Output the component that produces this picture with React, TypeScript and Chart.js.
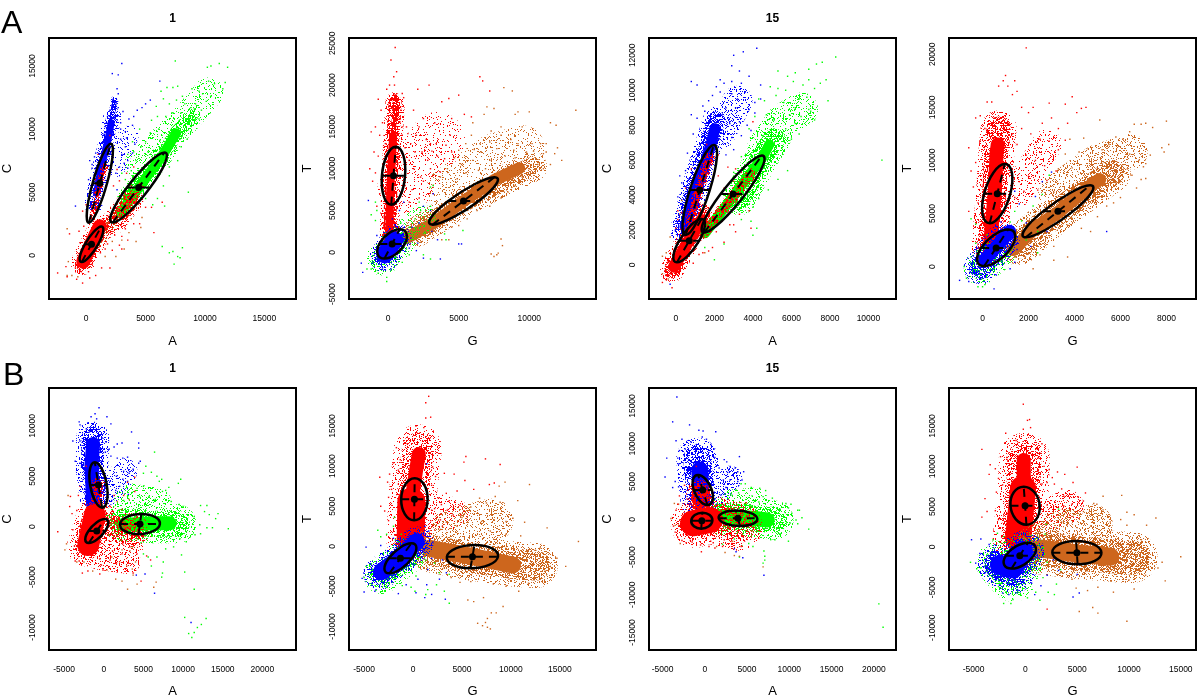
import React, { useEffect, useRef } from "react";
import { Chart, registerables } from "chart.js";
Chart.register(...registerables);

// All point values below are in thousands of intensity units.
const colX = ["A", "G"];
const colY = ["C", "T"];

// ---- Panel A1 ----
const a1XTicks = [0, 5000, 10000, 15000];
const a1YTicks = [0, 5000, 10000, 15000];
const a1BlueHalo = [[.6, 4], [1.28, 7], [1.84, 9.15], [2.2, 11]];
const a1BlueCore = [[.87, 4.9], [1.28, 7], [1.84, 9.15], [2.1, 10.5]];
const a1BlueThin = [[2.1, 10.5], [2.4, 12.3]];
const a1BlueFar = [[2.5, 7], [3.6, 9.5]];
const a1GreenHalo = [[3.5, 4.5], [6.4, 7.9], [7.6, 9.7], [8.8, 10.9]];
const a1GreenCore = [[2.9, 3.4], [4.5, 5.45], [6.45, 7.96], [7.57, 9.68]];
const a1GreenFar = [[4.5, 7.3], [8.3, 10.7], [10.3, 12.9]];
const a1OrangeCore = [[.8, 1.2], [2, 2.5], [3.9, 4.4]];
const a1RedHalo = [[-.3, -.6], [1.1, 2], [2.3, 2.6], [3.8, 4.4]];
const a1RedCore = [[-.25, -.5], [.45, .95], [1.15, 2.3]];
const a1RedUpper = [[.6, 3.1], [1, 5.2], [1.56, 7]];
const a1RedLower = [[2.1, 2.6], [3.2, 3.9], [4.5, 5.4]];
const a1Blue = [[3, 15.2], [2.7, 14.3], [2.2, 14.4], [2.6, 13.2], [2.7, 12.8], [2.4, 12], [2, 11.5], [1.8, 11], [1.7, 10.5], [2.9, 10], [3.3, 9.8], [3.4, 9.3], [3.9, 10.3], [4, 11], [4.3, 11.5], [5, 12], [5.4, 12.3], [6.2, 13.8], [4.7, 11.7], [3.6, 10.8], [3, 8], [3.5, 7.5], [3.9, 8.1], [2.8, 7], [2.5, 6.5], [1.4, 9], [1.1, 8], [.7, 7.8], [.3, 7.5], [.5, 6.9], [.2, 6], [-.9, 3.9], [.4, 5], [3.5, 6.9], [2.6, 5.2], [2.9, 10.5], [3.1, 11.4], [2.4, 10.8], [2.9, 9.2], [3.3, 8.6], [1.3, 8.5], [.9, 7], [3.2, 7.3], [1.6, 10.2], [1.5, 9.6], [.8, 8.1], [.5, 7.2], [2.7, 11.7], [2.3, 9.6], [4.1, 8.8]];
const a1Green = [[7.5, 15.4], [10.2, 14.9], [10.5, 15], [11.2, 15.2], [11.9, 14.9], [6.3, 13], [6.8, 13.3], [7.3, 13.3], [7.7, 13.4], [8.9, 13.2], [9.5, 13], [10.3, 13.8], [10.8, 13.6], [11.7, 13.7], [11.5, 13.2], [9.8, 12.8], [10.5, 12.6], [10.1, 12.2], [8.3, 12], [8.8, 11.7], [9.2, 12], [9.7, 11.5], [7, 12], [6.5, 12.4], [5.9, 11.8], [6, 11], [5.5, 10.7], [6.7, 11], [7.3, 11.3], [8, 11.3], [8.7, 11], [9.2, 10.8], [9.5, 10.8], [8.8, 9.8], [8.5, 9.2], [8, 8.6], [7.7, 7.5], [7, 7], [7, 6.3], [6.5, 5.5], [6, 4.5], [5.6, 4], [5, 4.5], [3.5, 8], [3.9, 9], [4.5, 10], [5, 9], [4.2, 7.5], [3, 6.5], [3.3, 6], [4, 8.2], [4.6, 8.6], [5.4, 9.7], [6.1, 10], [8.6, 5], [6.4, .7], [7, .2], [7.3, .3], [7.9, -.2], [7.7, -.1], [7.4, -.7], [8.1, .6], [6.6, 3.9], [9.1, 11.6], [8.1, 12.6], [7.6, 12.3], [6.2, 9.1], [5.2, 8.2], [4.9, 7], [3.8, 6.7]];
const a1Orange = [[-1.6, -1.6], [-1.2, -1.6], [-1.5, -.5], [-.7, -1.7], [2.5, -.1], [3.2, .5], [3, 1.2], [4.2, 1.1], [4.6, 2.2], [4.7, 3], [3.6, 1.8], [.3, -.9], [1.6, -.1], [2.2, 1.1], [3.8, 2.9], [-1.6, 2.1], [.1, 3.9]];
const a1Red = [[-2.4, -1.4], [-1.7, -.9], [-1.4, 1.7], [-1.6, -1.7], [-.8, -1.9], [-.3, -2.2], [.2, -1.3], [.8, -1.6], [1.3, -1], [2, -1], [2.2, .4], [1.6, .5], [-.5, 1], [-.6, 1.9], [-.2, 2.3], [.1, 3], [-.3, 3.5], [0, 4], [3, 1.5], [3.5, 1.2], [2.8, .8], [4, 2.5], [4.5, 2.5], [5, 3.8], [5.5, 3.8], [5.7, 1.8], [6.4, 4.2], [3.8, 5.5], [3.4, 6.5], [2.8, 5.9], [2.9, 4.5], [2.3, 5.5], [2.6, 6.8], [1.8, 8.5], [2, 9.5], [4, 7], [4.4, 5], [1, 8], [.8, 6], [3, .5], [.3, -1.8], [2.5, 2.9], [1.8, .9], [2.4, 1.6], [3.3, 2.1], [1.2, .2], [-.9, -1], [-.4, -1.3], [.5, -.7], [3.7, 3.3]];
const a1Ellipses = [[.45, .87, 1.28, 2.28, 1.01, .87], [1.15, 5.71, 2.07, 8.84, 1.76, 5.71], [4.41, 5.37, 6.59, 8.15, 5.39, 5.37]];

// ---- Panel A2 ----
const a2XTicks = [0, 5000, 10000];
const a2YTicks = [-5000, 0, 5000, 10000, 15000, 20000, 25000];
const a2RedHalo = [[.1, 2], [.2, 8], [.35, 13.8], [.5, 18]];
const a2RedCore = [[.07, 2.27], [.16, 7.85], [.35, 13.84]];
const a2RedThin = [[.35, 13.84], [.52, 18.6]];
const a2RedFar = [[1.2, 8], [3.5, 13.5]];
const a2OrangeHalo = [[2, 2.4], [5.3, 6], [7.5, 8], [10.2, 10.2]];
const a2OrangeCore = [[1.29, 1.67], [3.18, 3.47], [5.29, 6.06], [7.53, 8.65], [9.29, 10.05]];
const a2OrangeFar = [[4.3, 7.5], [7.5, 11.5], [9.5, 12.5]];
const a2GreenHalo = [[-.4, -.8], [.7, 1.2]];
const a2GreenFar = [[.9, 1.5], [2.4, 4]];
const a2BlueHalo = [[-.3, -.6], [.6, 1.6]];
const a2BlueCore = [[-.24, -.32], [.47, 1.47]];
const a2Red = [[.5, 24.5], [.2, 23], [.6, 21.6], [.4, 21], [.45, 20], [.1, 20], [-.1, 19.5], [-.7, 18.3], [-.5, 17], [-1.2, 14.4], [-.9, 15], [-.6, 14], [-.4, 15.5], [-.2, 13], [-.7, 11.5], [-1, 12], [-1.3, 10], [-.9, 9.5], [-1.1, 8.5], [-.4, 8], [-.6, 7], [-.8, 5.5], [1, 15], [1.3, 15], [1, 14], [1.6, 13], [1.9, 12], [1.5, 11], [1.8, 10], [2, 14], [2.5, 16], [2.1, 19.5], [2.9, 20], [3, 13], [2.4, 12], [2.8, 11], [3.4, 13], [3.3, 15.5], [3.8, 18], [4.3, 18.4], [4.5, 16], [4.4, 14], [4.1, 12.8], [4.5, 12], [5, 18.8], [5.4, 16.5], [5.9, 16.2], [6.5, 21], [6.7, 20.5], [7.2, 19.3], [3, 10], [3.2, 8], [2.3, 9], [1.7, 7.5], [1.2, 8], [1.5, 6], [2.2, 6.5], [2.5, 8.5], [3.7, 9.6], [4, 11.2], [1.8, 17], [2.2, 15], [1.2, 12.5], [.9, 17], [1.1, 18.5], [1, 19], [3.5, 11.5], [2.7, 13.5], [1.4, 14.2], [3.1, 12.1]];
const a2Orange = [[13.3, 17], [8.2, 19.7], [8.8, 19.3], [11.5, 15.5], [11.9, 15.2], [10, 16.8], [9.2, 16.8], [9, 16.5], [7, 17.4], [7.5, 17.2], [6.8, 16.5], [6, 15.5], [7.3, 14.5], [8, 15], [9.5, 15], [10.2, 13], [10.8, 13], [11.2, 13], [11.2, 12], [12, 12.5], [12.3, 11], [11.8, 11.8], [11, 10], [11, 11.8], [11.5, 10.5], [10.3, 12.1], [9.8, 12], [9.2, 13], [8.7, 13.5], [8, 14], [7.2, 13.2], [6.5, 13], [5.9, 14], [5.5, 13], [5, 12.2], [4.7, 11.3], [4.2, 10], [3.7, 9], [5.2, 10.5], [6, 11], [6.6, 12], [7.2, 11], [8.3, 11.5], [9, 11.3], [10, 10], [10.6, 10.5], [9.5, 9], [9, 8], [8.5, 7.2], [8, 6.5], [7.2, 5.5], [6.3, 5], [5.6, 4], [5, 3.2], [4.5, 3], [3.8, 1.5], [4.3, 1.5], [8.1, .8], [8, 1.6], [7.7, -.3], [7.5, -.5], [7.8, -.1], [7.3, -.2], [6.1, 12.3], [7.7, 12.4], [8.9, 12.2], [5.5, 9.5], [6.4, 9.8], [4.9, 8.8], [6.9, 10]];
const a2Green = [[-1.5, -2], [-1.2, -2], [-.7, -2.5], [-.1, -3.5], [-.1, -3], [-.5, -1], [1.5, -.3], [2.5, -.3], [3, -.8], [1.5, 3], [1.9, 4], [2.3, 5], [3, 5.5], [3.2, 8], [3, 7.8], [2.2, 6], [-1.2, 4.5], [-.9, 6], [-.8, 5], [-.9, 3.8], [1, -1.2], [4, 2.2], [4.1, 1.5], [5.3, 2.6], [1.2, 1.6], [1.8, 2.1], [2.6, 2.4], [.9, 3.5], [1.3, .4]];
const a2Blue = [[-1.9, -1.3], [-1.8, -2.4], [-1.4, 6.2], [-.8, 2], [-.4, -2], [.2, -2], [1.5, .5], [2, .2], [2.5, -.7], [3.7, -.8], [5, 1], [5.2, 1], [1, 2], [1.7, 3], [2.2, 3.5], [2.5, 5.5], [3, 5], [3.2, 7], [3.1, 2.5], [3.5, 1.5], [.8, 5], [1.1, 6], [.3, 4], [2.1, 1.1], [1.6, 1.7]];
const a2Ellipses = [[.38, 9.17, .54, 12.64, 1.2, 9.17], [.28, 1, .82, 2.75, 1.18, 1], [5.34, 6.14, 7.53, 8.97, 6.42, 6.14]];

// ---- Panel A3 ----
const a3XTicks = [0, 2000, 4000, 6000, 8000, 10000];
const a3YTicks = [0, 2000, 4000, 6000, 8000, 10000, 12000];
const a3BlueHalo = [[.4, 2], [1.1, 4.8], [1.7, 6.9], [2.1, 8.3]];
const a3BlueCore = [[.47, 2.19], [1.24, 4.87], [1.84, 6.97], [2.02, 7.8]];
const a3BlueFar = [[2.3, 7.5], [3.2, 9.4]];
const a3GreenHalo = [[3.3, 3.8], [4.5, 6.2], [5.1, 7.2]];
const a3GreenCore = [[1.5, 1.81], [2.97, 3.91], [4.52, 6.2], [4.85, 6.9]];
const a3GreenFar = [[4.6, 6.8], [5.6, 8.3], [6.5, 8.9]];
const a3RedHalo = [[-.2, -.3], [.7, 1.6], [1.4, 2.8]];
const a3RedCore = [[-.1, -.1], [.64, 1.34], [1.33, 2.58]];
const a3RedUpper = [[.72, 2.58], [1.24, 4.48], [1.76, 6.2]];
const a3RedLower = [[1.41, 1.81], [2.97, 3.91], [3.9, 5.2]];
const a3Blue = [[4.2, 12.4], [3.5, 12.2], [3, 12], [2.9, 11.4], [3.3, 11.1], [.8, 10.5], [1.1, 10.3], [4.4, 10.3], [3.8, 10.8], [3.4, 10.4], [2.9, 10.5], [2.3, 10.6], [2.5, 10.4], [2.1, 10.2], [1.9, 9.7], [1.7, 9.4], [2.9, 9.8], [3.2, 9.5], [3.6, 9.9], [4.4, 9.5], [4.1, 9.3], [3.8, 8.9], [4.1, 8.7], [3.1, 9], [2.6, 9], [2.4, 8.6], [3.3, 8.2], [3.7, 8], [3.9, 7.7], [3.4, 7.4], [2.9, 7.3], [3, 6.6], [2.6, 6.3], [.8, 8.6], [1.1, 8.4], [.9, 7.5], [.6, 6.4], [.2, 5.1], [.1, 3.9], [-.3, -1.1], [.3, 4.7], [.5, 5.4], [2.3, 9.9], [2.8, 8.1], [1.4, 9.1], [1.5, 8.8]];
const a3Green = [[8.3, 11.9], [7.6, 11.6], [7.3, 11.5], [6.9, 11.2], [5.3, 11.1], [6.2, 11], [5.8, 10.8], [6.1, 10.5], [7.8, 10.6], [7.5, 10.4], [6.6, 10.3], [6.9, 10.6], [7.2, 10.1], [5.7, 10], [4.9, 10.2], [5.3, 10.1], [4.3, 9.5], [4.6, 9.4], [5.2, 9.7], [5.6, 9.3], [6.4, 9.5], [6.8, 9.6], [7.9, 9.4], [6.2, 9], [6.9, 8.9], [6.5, 8.5], [7, 8.8], [7.2, 8.3], [4.1, 8.5], [4.7, 8.6], [5.9, 8.6], [6.2, 8.1], [5.7, 7.8], [6, 7.2], [6.4, 7.5], [5.5, 6.7], [5.8, 5.4], [5.3, 4.9], [4.8, 4.3], [4.3, 3.8], [4, 3.3], [4.2, 2.1], [4, 1.7], [3.9, 2.5], [10.7, 6], [3.8, 7.8], [3.4, 6.2], [3, 5.3], [2, .3], [1.5, 1], [2.5, 1.2], [3.4, 2.6], [3.8, 4], [5.1, 8.3]];
const a3Orange = [[-.7, .5], [-.7, -.5], [-.5, .7], [-.3, 1.6], [.2, 2.9], [.3, 3.7], [.9, .9], [1.5, .7], [-.5, -.3], [-.4, -.8]];
const a3Red = [[-.7, -1], [-.5, -.6], [-.2, -1.3], [-.4, .3], [-.3, -.5], [0, 2.1], [.1, 2.6], [.1, 3.1], [.3, 3], [.5, 4.4], [.8, 5.5], [.9, .1], [1.2, .6], [1.4, .7], [1.7, .8], [1.9, 1], [2.1, 1.9], [2.5, 1.3], [2.4, 2.5], [2.8, 2.3], [3, 2.3], [3.1, 1.9], [3.3, 2.9], [3.8, 3.1], [3.9, 2.1], [1.7, 5.6], [2, 6.1], [2.2, 5.1], [2.5, 4.4], [2.7, 5.6], [3.1, 5.5], [3.4, 5.3], [3.9, 5.4], [2.6, 3.6], [2.2, 6.3], [1.5, 5], [4, 8.2], [1.6, 6.9], [2.6, 3.1], [3, 4.8], [1.6, 2.4], [.6, .6]];
const a3Ellipses = [[.69, 1.39, 1.33, 2.63, 1.21, 1.39], [1.24, 4.29, 1.97, 6.87, 1.76, 4.29], [2.97, 4.06, 4.47, 6.26, 3.62, 4.06]];

// ---- Panel A4 ----
const a4XTicks = [0, 2000, 4000, 6000, 8000];
const a4YTicks = [0, 5000, 10000, 15000, 20000];
const a4RedHalo = [[.3, 1.9], [.5, 6.9], [.6, 10.7], [.7, 13]];
const a4RedCore = [[.32, 1.91], [.53, 6.93], [.61, 10.69], [.66, 11.5]];
const a4RedFar = [[1.5, 7], [2.8, 11.5]];
const a4OrangeHalo = [[1.6, 2], [3.3, 5.2], [4.7, 7.4], [5.6, 8.8]];
const a4OrangeCore = [[1.33, 1.6], [2.2, 3.48], [3.35, 5.2], [4.65, 7.55], [5.1, 8.2]];
const a4OrangeFar = [[3.2, 7], [5, 9.8], [6.4, 10.8]];
const a4GreenHalo = [[-.1, -.2], [.7, 1.2]];
const a4BlueHalo = [[-.1, -.1], [.9, 2.6]];
const a4BlueCore = [[.1, .66], [.75, 2.23], [1.18, 3.32]];
const a4Red = [[1.9, 20.6], [1, 18], [.9, 17.5], [1.1, 17], [1.4, 17.5], [.7, 17], [1.5, 16.5], [.4, 15.5], [.2, 15.5], [1.3, 16.2], [1.7, 15], [2.2, 15], [2.9, 15.4], [3.6, 15.3], [3.9, 16], [4.3, 14.9], [2, 14.5], [2.6, 13.5], [3, 14], [3.3, 13], [3.7, 13.5], [4.1, 14.5], [4.5, 15], [1.7, 13], [2.1, 12.5], [2.5, 12], [2.9, 11.8], [3.3, 11], [1.5, 11.5], [1.3, 12.5], [1.9, 10.5], [2.3, 10], [2.7, 9.5], [3.2, 9], [1.6, 8], [2, 8.5], [-.6, 11.2], [-.3, 14], [-.1, 14.2], [-.5, 9], [-.3, 9.8], [-.4, 7.5], [-.6, 5.2], [-.2, 6], [.1, 13], [1.4, 6.5], [1.8, 7.1], [2.4, 7.2], [2.8, 8.1], [1.1, 13.5], [-.1, 11.8], [3.6, 11.9]];
const a4Orange = [[8, 13.7], [7.1, 13.5], [6.9, 13.4], [6.6, 13.4], [7.4, 13.1], [7.8, 11.2], [7.9, 10.8], [8.1, 11.5], [7.3, 10.5], [7.1, 9.7], [7, 9.4], [7.1, 8.3], [6.9, 8.2], [6.8, 10], [6.4, 12.7], [6.1, 12], [5.8, 12.2], [5.5, 11.5], [5.2, 11], [5.1, 13.8], [4.4, 12.1], [4.6, 11.1], [3.8, 12], [4.2, 10.8], [3.6, 10.6], [3.3, 9.2], [3.9, 9.3], [5, 9.2], [6.1, 9.6], [6.3, 9.2], [6.5, 8.6], [6.7, 7.4], [6, 6.5], [5.7, 6], [5.4, 5.7], [5, 4.7], [4.7, 3.3], [4.3, 3.6], [3.7, 3.9], [3.7, .9], [3.1, .6], [2.2, -.2], [2.5, 1.1], [3.1, 1.9], [5.4, 9.3], [4.6, 8.7], [3.1, 7], [2.9, 5.5], [6.4, 10.6], [5.8, 7.9]];
const a4Green = [[-.8, 0], [-.7, -1.1], [-.2, -1.9], [0, -1.9], [.1, -1.7], [-.3, 2.2], [-.5, 4.5], [-.3, 4], [.2, 3], [1.4, 5.2], [1.7, 4.3], [2.2, 5.7], [2.6, 6.8], [2.9, 8.6], [2.4, 3.3], [2.4, 1.3], [1.9, 2.5], [1.2, 4.2], [.9, 2.2], [-.5, .9]];
const a4Blue = [[-1, -1.3], [-.6, -1.4], [.5, -2.1], [-.2, -.5], [-.4, 1], [1.5, 1.6], [1.2, -.2], [1.3, 2.6], [1.9, 4.1], [2.3, 6.6], [2.6, 8], [1.6, 5.9], [1.4, 7.1], [5.4, 3.3], [3, 8.9], [2.1, 1.9], [2.8, 3.3], [.8, 4.2], [1.4, .4], [.6, -.8]];
const a4Ellipses = [[.64, 6.87, .97, 9.66, 1.21, 6.87], [.59, 1.76, 1.11, 3.48, 1.24, 1.76], [3.28, 5.2, 4.68, 7.65, 3.93, 5.2]];

// ---- Panel B1 ----
const b1XTicks = [-5000, 0, 5000, 10000, 15000, 20000];
const b1YTicks = [-10000, -5000, 0, 5000, 10000];
const b1BlueHalo = [[-1, 3], [-1.5, 6], [-1.4, 8.8]];
const b1BlueCore = [[-1.34, 2.15], [-1.55, 6.13], [-1.34, 8.2]];
const b1BlueFar = [[.8, 3.5], [2.6, 5.5]];
const b1GreenHalo = [[2.4, .5], [5.8, .3], [9.2, .3]];
const b1GreenCore = [[2.43, .17], [5.77, .33], [8.3, .33]];
const b1GreenFar = [[3.5, 2.6], [6.5, 2.2]];
const b1RedHalo = [[-2.2, -2], [-1, 1], [.5, 0], [3.5, -.7]];
const b1RedCore = [[-1.97, -1.82], [-1.13, 1.16]];
const b1RedMid = [[.33, .17], [3.68, -.5]];
const b1RedUpper = [[-1.13, 1.16], [-.71, 4.14]];
const b1RedFar = [[-.5, -3], [3, -3.4]];
const b1Blue = [[-.6, 11.8], [-1.1, 11.2], [-1.6, 10.9], [-.9, 10.7], [.4, 10.9], [.9, 10.2], [-3.1, 10.4], [-3, 10.1], [-2.2, 9.7], [-1.8, 9.4], [-3.9, 8.5], [-3, 8.5], [-.2, 8.8], [.3, 8.4], [.7, 7.7], [1.3, 7.9], [1.7, 8.2], [2.3, 8.3], [3.5, 9.4], [4.4, 8.3], [4.4, 7.8], [-3.6, 6.5], [-3, 6.3], [-2.8, 5.9], [.2, 7.4], [.9, 7], [1.7, 6.8], [2.4, 6.8], [3, 6.9], [4.6, 6.5], [4.4, 6.3], [2.5, 5.5], [3.2, 5.3], [3.7, 5.7], [1.6, 5], [2.4, 4.7], [3, 4.5], [1.5, 3.6], [2, 4], [3.1, 3.2], [.5, 3], [-.3, 6.5], [.8, 4.5], [1, 2.6], [4.1, -4.8], [5.2, -4.7], [6.4, -6.6], [11, -9.5]];
const b1Green = [[6.4, 7.4], [5.3, 6], [5, 5.3], [6, 5.4], [6.7, 5], [9.7, 4.7], [9.4, 4.3], [8.2, 3.9], [7.3, 4.7], [7, 4.5], [7.4, 3.5], [7.8, 3.6], [5, 4], [4.2, 3.8], [3.6, 3.4], [3, 3], [2.5, 2.6], [4.5, 3], [5.7, 3], [6.5, 2.7], [8.5, 2.5], [9.5, 2.2], [10, 2], [12.2, 2.1], [12.7, 1.5], [13, 2.1], [13.3, 1.2], [14.4, 1.3], [14.1, .8], [13.7, -.1], [13, -.1], [12.1, .2], [11.4, 1], [15.7, -.2], [12.2, -.7], [11.5, -.8], [10.4, -1.5], [9.6, -1.2], [8.8, -2], [7.8, -2.2], [6.7, -3], [7.5, -3.5], [9.8, -2.8], [10.2, -4.5], [7.4, -4.6], [7.3, -5], [6, -3.9], [5.6, -3], [10.2, -9], [12.9, -9.1], [12.3, -9.7], [11.8, -10], [11.4, -10.5], [10.7, -10.6], [11.1, -11], [11.4, -6.2], [5, -2.7], [4.7, -1.6], [3.6, -2]];
const b1Orange = [[-4.9, -2.3], [-4.7, -1.7], [-4.5, 3.1], [-3.4, -3.5], [-2.5, -3.5], [-1.4, -4.4], [.4, -4.3], [1.5, -5.2], [2.3, -5.4], [3, -6.2], [3.7, -4.8], [4.2, -5.7], [6.3, -6], [6.6, -5.5], [2, -3.5], [2.9, -3.9], [4, -3.5], [3.3, -2.4], [3.6, -.7], [1, -3], [1.7, 2.5], [3.2, 2.7], [2.3, -2.3], [3.6, -4.2]];
const b1Red = [[-5.8, -.5], [-4.3, 2], [-4, 1.3], [-3.9, -.3], [-3.7, -1.9], [-4.2, 3], [-3.6, -3.4], [-2.7, -4.6], [-2, -4.4], [-.5, -4.7], [-.1, -4.3], [-.3, -3.8], [1.6, -3.6], [.8, -3.3], [2.3, -2.7], [3.1, -3.6], [3.7, -4.6], [4.7, -5.4], [3.3, -2], [4.2, -2.7], [5.4, -2.9], [5.9, -3.3], [2.5, 3.1], [3, 4.4], [3.9, 4.9], [3.9, 3.5], [1.3, 3.1], [.8, 2], [-2.2, 6], [-3, 4], [-3.2, 3.1], [-3.4, 1.6], [1.1, 1.6], [2.3, 1.7], [4.3, .3], [4.9, -1.4], [2.4, -1.7], [1.1, -2.4], [-.5, -3.2], [-3.1, -3.4]];
const b1Ellipses = [[-.67, 4.14, -1.13, 6.39, .38, 4.14], [-.88, -.43, .13, .76, .17, -.43], [4.56, .26, 4.73, 1.26, 7.07, .26]];

// ---- Panel B2 ----
const b2XTicks = [-5000, 0, 5000, 10000, 15000];
const b2YTicks = [-10000, -5000, 0, 5000, 10000, 15000];
const b2RedHalo = [[-.3, .9], [0, 6.8], [.5, 12.2]];
const b2RedLower = [[-.24, 1], [-.17, 5.57]];
const b2RedUpper = [[-.17, 5.57], [.34, 9.72], [.6, 11.5]];
const b2RedFar = [[2, 4.5], [4, 4]];
const b2OrangeHalo = [[2, -.5], [6.1, -1.5], [10.2, -2.2], [12.5, -2.4]];
const b2OrangeCore = [[1.7, -.25], [6.11, -1.29], [10.18, -2.33]];
const b2OrangeFar = [[4, 2], [8, 3.2]];
const b2GreenHalo = [[-3.2, -3.7], [-.6, -1.2]];
const b2BlueHalo = [[-3.4, -3.4], [-1.3, -1.5], [.4, .4]];
const b2BlueCore = [[-3.22, -3.16], [-1.36, -1.5], [.34, .58]];
const b2Red = [[1.6, 18.7], [1.3, 17.9], [1.8, 16.1], [1.3, 16], [1.1, 14.8], [.3, 15], [-.6, 12.8], [-1.7, 12.3], [-2, 10.4], [-1.5, 9.5], [-2.4, 9], [-3.4, 8.6], [-2.6, 8], [-2.2, 7.1], [-3.3, 5], [-2.9, 4.4], [-2.5, 6.1], [-2.5, 3.2], [2, 9.9], [2.3, 8.7], [3.2, 9.1], [4.2, 9], [5.2, 10.5], [5.4, 11.2], [7.4, 10.9], [8.9, 10.2], [5.3, 8.2], [6.2, 7.1], [7.8, 7.7], [8.3, 7.9], [4.5, 6.9], [3.4, 6.6], [2.6, 6], [2.2, 4.7], [2.8, 3.3], [3.5, 4.5], [4.1, 3.9], [4.8, 5.1], [4.9, 3.9], [1.9, 4.5], [1.8, 3.2], [3, 2.5], [1.5, 9], [1.9, 7.6], [1.1, 10.5], [-1.3, 10.8], [2.9, 5.2], [3.7, 5.7]];
const b2Orange = [[16.9, .6], [15.6, -2.5], [14.7, -1.5], [13.7, 2.3], [13, -.2], [12.3, -2.2], [11.9, 7.7], [10.7, 5.7], [9.4, 8], [8.8, 7.5], [8.4, 6.2], [10.2, 3.5], [11.4, 3], [11, 1.3], [9.5, 3.1], [8.3, 3.3], [8.9, 5.5], [7.5, 5.4], [6.8, 6], [5.9, 4.9], [5, 3.6], [3.4, 3], [2.8, 2.1], [4.5, 2.5], [7, 3.1], [7.9, 1.9], [9.5, 1.5], [12.5, -.5], [13.5, -3.1], [11.8, -4.6], [10.8, -5.6], [9.5, -5], [8.2, -4.7], [7.2, -6.4], [6.2, -6.9], [5.6, -6.7], [9.2, -7.5], [8.5, -8.3], [8, -8.3], [7.6, -9], [7.4, -9.5], [7.1, -9.9], [6.6, -9.6], [7.9, -10.3], [7.6, -10.1], [5.9, -4.4], [4.8, -4.5], [3.9, -3.9], [3.2, -2.7], [9.8, -4.1]];
const b2Green = [[-4.8, -2.5], [-5, -3.9], [-4.2, -4.8], [-3.8, -5.5], [-2.9, -5.6], [-3.6, 2], [-3.3, 1.2], [-2.7, 1.5], [-2, 2.5], [-1.9, 3.6], [-1.8, .8], [-1.2, 1.5], [-1.1, -4.9], [-.2, -5.1], [.2, -5.6], [1.3, -6], [1.5, -5.4], [2.4, -4.8], [3.2, -5.6], [3.7, -7.1], [2.7, -3.3], [3.7, -3.5], [2.2, -2.1], [1.3, -1.7], [.3, -3.7], [.9, -2], [-2.7, -4.9], [-2.3, -.9]];
const b2Blue = [[-4.8, -.1], [-5.2, -4], [-5, -5.7], [-3.9, -5.6], [-1.5, -5.9], [-3.3, .1], [-2.6, -.6], [-2, 1], [-.7, -4.8], [.3, -5.8], [1.2, -6.4], [1.9, -6], [3.3, -6.6], [1.4, -4.8], [2.7, -4.1], [3.4, -3.3], [3, -1.7], [1.9, -1.5], [1.5, -2.9], [.5, -4.1], [2, .5], [1.6, 1.9], [1.2, 2.5], [1.4, 10.3]];
const b2Ellipses = [[.14, 5.86, .17, 8.48, 1.49, 5.86], [-1.29, -1.5, -.17, .37, -.1, -1.5], [6.07, -1.29, 6.28, .17, 8.68, -1.29]];

// ---- Panel B3 ----
const b3XTicks = [-5000, 0, 5000, 10000, 15000, 20000];
const b3YTicks = [-15000, -10000, -5000, 0, 5000, 10000, 15000];
const b3BlueHalo = [[-.4, 2.5], [-.7, 5.8], [-.9, 8]];
const b3BlueCore = [[-.39, 2.56], [-.59, 6.53]];
const b3BlueFar = [[1.6, 3.5], [3, 5.5]];
const b3GreenHalo = [[2.2, .4], [5.7, .1], [8.2, -.1]];
const b3GreenCore = [[2.16, .35], [5.7, .13], [7.4, -.09]];
const b3GreenFar = [[3.2, 2.4], [6, 2.6]];
const b3RedHalo = [[-1.2, -.6], [.2, 0], [2.5, -.5], [4, -1]];
const b3RedCore = [[-1.38, -.53], [.58, -.09]];
const b3RedUpper = [[-.39, 2.12], [-.59, 3.44]];
const b3Blue = [[-3.3, 16.2], [-3.8, 12.9], [-1.8, 12.5], [-.7, 11.8], [-.2, 11.7], [1.3, 11.6], [-.3, 10.9], [.2, 10.6], [-3.4, 10.4], [-2.7, 10.6], [-1.6, 10.2], [-1, 9.9], [.7, 9.9], [1.1, 9.3], [-2.3, 9.3], [-3, 9.1], [-4.5, 8.1], [-3.2, 8.1], [-3.1, 7.3], [1.2, 8.2], [2.3, 7.9], [2.6, 7.6], [3, 7], [4.1, 8.3], [1.7, 6.8], [2.7, 6.2], [3.6, 6.8], [3.9, 6.3], [4.6, 6.3], [-4.7, 5.6], [-3.5, 5], [-3.8, 4.2], [-3.1, 4.3], [2.2, 5.2], [3, 5.2], [3.9, 5], [4.4, 5.2], [2.5, 4.2], [3.1, 3.4], [1.9, 3.2], [1.4, 2], [.5, 5.4], [3.5, -3.9], [3.7, -4.3], [4.5, -5.1], [7, -7.4], [2.4, 1.9]];
const b3Green = [[4.8, 4.7], [4.3, 4.7], [5.5, 4.2], [6.5, 4.1], [7.2, 3.8], [3.7, 3.9], [3.1, 3.2], [2.8, 2.7], [4, 3.5], [5.6, 3.1], [6.9, 3], [8, 2.8], [9.6, 2.1], [10.2, 2], [9.9, 1.5], [11, 1.2], [11.2, 1.2], [10.3, .8], [11.5, .2], [10.8, -.1], [11, -.6], [10.1, -.5], [12.3, -1.3], [9.9, -2.9], [8.9, -1.9], [8.3, -2.7], [7.8, -2.7], [7, -4.2], [7.1, -4.9], [6.9, -5.8], [7.1, -5.4], [5.7, -3.6], [5.2, -3.2], [4.4, -3.5], [4.1, -5], [2.1, -3.3], [20.6, -11.2], [21.1, -14.3], [3.5, -2.6], [6.4, 2.3]];
const b3Orange = [[-4, .1], [-3.5, -.8], [-3.6, 2.1], [-3.1, -.8], [-2.9, -3.2], [-3.1, 2], [-2.2, -1.8], [2.4, -4.4], [1.4, -3.6], [3.5, -4.8], [4.1, -4.9], [6.9, -6.3], [3.3, -2.9]];
const b3Red = [[-3.4, 1.2], [-3.5, -1.7], [-3.7, -.9], [-3.2, -2.4], [-2.7, -2.8], [-2.2, -3.1], [-1.7, -2.8], [-.4, -4.3], [-.5, -3.4], [.5, -3.6], [1.2, -3.8], [1, -3.1], [2.1, -3.6], [2.3, -2.7], [3.2, -3.2], [4.3, -3.6], [4.9, -1.6], [4.5, -2.2], [3, -2], [2, -1.6], [-3.2, 2], [-3, 3.1], [-2.4, 4.5], [-2.1, 2.7], [-1.8, 4.2], [-1, 7], [1.5, 1.8], [1.9, 1.1], [3.3, 1.4], [4.9, 2.2], [-1.5, -3], [.7, -2.9]];
const b3Ellipses = [[-.24, 3.88, -.79, 5.87, .83, 3.88], [-.35, -.18, -.28, .88, .9, -.18], [3.93, .13, 3.7, 1.15, 6.21, .13]];

// ---- Panel B4 ----
const b4XTicks = [-5000, 0, 5000, 10000, 15000];
const b4YTicks = [-10000, -5000, 0, 5000, 10000, 15000];
const b4RedHalo = [[-.7, 1], [-.2, 7.3], [-.1, 11]];
const b4RedLower = [[-.71, 1.07], [-.22, 7.27]];
const b4RedUpper = [[-.22, 7.27], [-.16, 10.8]];
const b4RedFar = [[1.6, 3.5], [4, 5]];
const b4OrangeHalo = [[1.4, -.2], [4.9, -.8], [8.8, -1.2], [10.3, -1.3]];
const b4OrangeCore = [[1.38, -.17], [4.9, -.79], [8.2, -1.2]];
const b4OrangeFar = [[3, 2], [6.5, 2.8]];
const b4GreenHalo = [[-2.6, -2], [-1.2, -4], [-.2, -1]];
const b4BlueHalo = [[-2.6, -2.2], [-1.2, -3.2], [-.2, -.6]];
const b4BlueCore = [[-2.47, -2.23], [-1.19, -2.64], [-.22, -.58]];
const b4Red = [[-.2, 17.7], [.2, 15.7], [.4, 15.8], [.5, 14.8], [-.2, 14.6], [-1.9, 14.1], [-.9, 13.2], [1.6, 12.8], [-4.2, 12.1], [-2.4, 11.2], [-1.8, 11.1], [1.2, 11], [-3.4, 10.2], [-2.9, 9.7], [-3.5, 9], [-2.6, 8.5], [-2.2, 7.7], [1.8, 10], [2.3, 9.6], [2.6, 8.6], [3.1, 9.3], [3.8, 9], [1.6, 7.8], [2.1, 8], [2.8, 7.8], [3.5, 7.2], [4.6, 8], [5, 9.9], [-3.9, 6], [-3.7, 4.4], [-2.9, 4.5], [-2.6, 3.4], [-4.2, 3.7], [5.8, 6.7], [5.1, 6.2], [4.5, 5.3], [5.6, 5.7], [3.7, 5.1], [3.1, 4], [2.1, 5.2], [2.5, 3.2], [2, 2.7], [-2.8, 6.8], [1.2, 9.4], [2.1, -7.7], [1.1, 12.2], [3.7, 6.3]];
const b4Orange = [[15, -1.2], [13.5, -4.2], [13.2, -1.9], [12.8, -2.6], [12.6, 3.6], [11.7, 2.7], [11.2, .9], [10.5, 4], [9.8, 4.3], [9.3, 6.4], [9.2, 3.4], [9.8, 2.7], [7.5, 6.3], [6.9, 5.3], [6.6, 5.4], [7.5, 4.6], [8.2, 3.1], [5.6, 4.4], [4.6, 3.8], [3.5, 3.1], [3, 2.4], [10.8, -1.1], [11.6, -3.5], [10.5, -5.2], [10, -4.1], [9.2, -3.2], [8.5, -5.6], [7, -5], [6, -5.4], [4.9, -5.1], [6.5, -7.5], [7, -8.2], [5.2, -8], [9.8, -9.2], [3.4, -3.2], [4.5, -4], [8, -2.9], [10.2, -.1], [6.3, 2.6], [5, 2.4]];
const b4Green = [[-5.3, -1.9], [-4.7, -2.7], [-4.3, -2.6], [-3.6, -1], [-3.1, .9], [-3, -.2], [-2.7, 1.7], [-2.1, 1.3], [-2.5, -4.5], [-2.6, -4.9], [-1.9, -5.6], [-2.1, -7], [-1.4, -7], [-1.2, -6.5], [-.4, -6], [.2, -6.3], [1, -5.6], [1.4, -6.6], [2.2, -5.6], [2.8, -5.9], [3, -4.6], [1.7, -3.8], [1.3, -2.7], [2.1, -1.9], [3.4, -2.8], [1.9, 1.6], [1.2, 1.2], [2, 2.8], [3.2, 4.7]];
const b4Blue = [[-5.2, .9], [-4.4, -.8], [-4.3, 1], [-4.8, -2], [-3.9, -3.2], [-2.9, -1.2], [-2.5, -4.7], [-2.2, -5.7], [-1.6, -5.9], [-.7, -5.4], [.6, -4.5], [.9, -5.9], [1.5, -4.8], [2.1, -3.5], [3.2, -2.9], [4.6, -6.2], [5.2, -5.7], [5, -3.4], [2.7, -1.6], [1.1, -.6], [-3.5, .3]];
const b4Ellipses = [[-.03, 5.12, -.16, 7.48, 1.38, 5.12], [-.54, -1.07, .26, .54, .8, -1.07], [4.97, -.7, 4.9, .74, 7.34, -.7]];

const COLORS: Record<string, string> = { red: "255,0,0", green: "0,255,0", blue: "0,0,255", orange: "205,102,29" };
const SHIFT: Record<string, number> = { red: 3, green: 31, blue: 57, orange: 83 };

type Panel = {
  col: number; row: number; title?: string; xLabel: string; yLabel: string;
  xRange: number[]; yRange: number[]; xTicks: number[]; yTicks: number[];
  layers: any[][]; ellipses: number[][];
};

// Layers: [values, colour, stroke width, stipple coverage] or [values, colour] for single dots.
const panels: Panel[] = [
  { col: 0, row: 0, title: "1", xLabel: colX[0], yLabel: colY[0], xRange: [-3126, 17656], yRange: [-3463, 17220], xTicks: a1XTicks, yTicks: a1YTicks, ellipses: a1Ellipses,
    layers: [[a1BlueFar, "blue", 20, .1], [a1BlueHalo, "blue", 12, .45], [a1BlueCore, "blue", 7, 1], [a1BlueThin, "blue", 5, .7], [a1Blue, "blue"],
      [a1GreenFar, "green", 30, .15], [a1GreenHalo, "green", 14, .55], [a1GreenCore, "green", 10, 1], [a1Green, "green"],
      [a1OrangeCore, "orange", 12, .3], [a1Orange, "orange"],
      [a1RedHalo, "red", 16, .45], [a1RedUpper, "red", 5, .55], [a1RedLower, "red", 6, .4], [a1RedCore, "red", 14, 1], [a1Red, "red"]] },
  { col: 1, row: 0, xLabel: colX[1], yLabel: colY[1], xRange: [-2773, 14728], yRange: [-5586, 25634], xTicks: a2XTicks, yTicks: a2YTicks, ellipses: a2Ellipses,
    layers: [[a2RedFar, "red", 55, .09], [a2RedHalo, "red", 13, .6], [a2RedCore, "red", 8, 1], [a2RedThin, "red", 5, .85], [a2Red, "red"],
      [a2OrangeFar, "orange", 45, .12], [a2OrangeHalo, "orange", 20, .5], [a2OrangeCore, "orange", 12, 1], [a2Orange, "orange"],
      [a2GreenFar, "green", 28, .1], [a2GreenHalo, "green", 22, .3], [a2Green, "green"],
      [a2BlueHalo, "blue", 20, .5], [a2BlueCore, "blue", 17, 1], [a2Blue, "blue"]] },
  { col: 2, row: 0, title: "15", xLabel: colX[0], yLabel: colY[0], xRange: [-1397, 11430], yRange: [-1946, 12990], xTicks: a3XTicks, yTicks: a3YTicks, ellipses: a3Ellipses,
    layers: [[a3BlueFar, "blue", 30, .18], [a3BlueHalo, "blue", 18, .55], [a3BlueCore, "blue", 11, 1], [a3Blue, "blue"],
      [a3GreenFar, "green", 34, .2], [a3GreenHalo, "green", 22, .55], [a3GreenCore, "green", 10, 1], [a3Green, "green"],
      [a3Orange, "orange"],
      [a3RedHalo, "red", 16, .55], [a3RedUpper, "red", 7, .6], [a3RedLower, "red", 8, .5], [a3RedCore, "red", 12, 1], [a3Red, "red"]] },
  { col: 3, row: 0, xLabel: colX[1], yLabel: colY[1], xRange: [-1460, 9287], yRange: [-3056, 21532], xTicks: a4XTicks, yTicks: a4YTicks, ellipses: a4Ellipses,
    layers: [[a4RedFar, "red", 30, .15], [a4RedHalo, "red", 24, .5], [a4RedCore, "red", 14, 1], [a4Red, "red"],
      [a4OrangeFar, "orange", 36, .2], [a4OrangeHalo, "orange", 26, .55], [a4OrangeCore, "orange", 13, 1], [a4Orange, "orange"],
      [a4GreenHalo, "green", 22, .3], [a4Green, "green"],
      [a4BlueHalo, "blue", 22, .5], [a4BlueCore, "blue", 13, 1], [a4Blue, "blue"]] },
  { col: 0, row: 1, title: "1", xLabel: colX[0], yLabel: colY[0], xRange: [-6905, 24231], yRange: [-12232, 13760], xTicks: b1XTicks, yTicks: b1YTicks, ellipses: b1Ellipses,
    layers: [[b1BlueFar, "blue", 26, .15], [b1BlueHalo, "blue", 22, .5], [b1BlueCore, "blue", 14, 1], [b1Blue, "blue"],
      [b1GreenFar, "green", 34, .2], [b1GreenHalo, "green", 26, .5], [b1GreenCore, "green", 14, 1], [b1Green, "green"],
      [b1Orange, "orange"],
      [b1RedFar, "red", 26, .2], [b1RedHalo, "red", 26, .4], [b1RedMid, "red", 18, .5], [b1RedUpper, "red", 10, .5], [b1RedCore, "red", 22, 1], [b1Red, "red"]] },
  { col: 1, row: 1, xLabel: colX[1], yLabel: colY[1], xRange: [-6543, 18694], yRange: [-12930, 19738], xTicks: b2XTicks, yTicks: b2YTicks, ellipses: b2Ellipses,
    layers: [[b2RedFar, "red", 34, .15], [b2RedHalo, "red", 32, .35], [b2RedLower, "red", 28, 1], [b2RedUpper, "red", 14, 1], [b2Red, "red"],
      [b2OrangeFar, "orange", 44, .18], [b2OrangeHalo, "orange", 30, .5], [b2OrangeCore, "orange", 17, 1], [b2Orange, "orange"],
      [b2GreenHalo, "green", 24, .4], [b2Green, "green"],
      [b2BlueHalo, "blue", 22, .5], [b2BlueCore, "blue", 17, 1], [b2Blue, "blue"]] },
  { col: 2, row: 1, title: "15", xLabel: colX[0], yLabel: colY[0], xRange: [-6600, 22628], yRange: [-17304, 17383], xTicks: b3XTicks, yTicks: b3YTicks, ellipses: b3Ellipses,
    layers: [[b3BlueFar, "blue", 24, .2], [b3BlueHalo, "blue", 28, .5], [b3BlueCore, "blue", 17, 1], [b3Blue, "blue"],
      [b3GreenFar, "green", 24, .2], [b3GreenHalo, "green", 26, .5], [b3GreenCore, "green", 15, 1], [b3Green, "green"],
      [b3Orange, "orange"],
      [b3RedHalo, "red", 32, .4], [b3RedUpper, "red", 18, .85], [b3RedCore, "red", 26, 1], [b3Red, "red"]] },
  { col: 3, row: 1, xLabel: colX[1], yLabel: colY[1], xRange: [-7375, 16471], yRange: [-12769, 19711], xTicks: b4XTicks, yTicks: b4YTicks, ellipses: b4Ellipses,
    layers: [[b4RedFar, "red", 34, .2], [b4RedHalo, "red", 34, .4], [b4RedLower, "red", 26, 1], [b4RedUpper, "red", 14, 1], [b4Red, "red"],
      [b4OrangeFar, "orange", 40, .25], [b4OrangeHalo, "orange", 34, .55], [b4OrangeCore, "orange", 18, 1], [b4Orange, "orange"],
      [b4GreenHalo, "green", 30, .3], [b4Green, "green"],
      [b4BlueHalo, "blue", 28, .55], [b4BlueCore, "blue", 20, 1], [b4Blue, "blue"]] },
];

const toXY = (arr: number[][]) => arr.map(([x, y]) => ({ x: x * 1000, y: y * 1000 }));

// A stroke style only (no values come from it): a fixed grain, so that a wide band
// whose outline was read from the picture looks like the reference's pixel speckle.
const stippleCache: Record<string, CanvasPattern | null> = {};
function stipple(colorKey: string, coverage: number) {
  const key = colorKey + coverage;
  if (key in stippleCache) return stippleCache[key];
  const size = 128;
  const tile = document.createElement("canvas");
  tile.width = size;
  tile.height = size;
  const g = tile.getContext("2d") as CanvasRenderingContext2D;
  g.fillStyle = `rgb(${COLORS[colorKey]})`;
  const s = SHIFT[colorKey];
  for (let x = 0; x < size; x++) {
    for (let y = 0; y < size; y++) {
      let h = (Math.imul(x + 1, 374761393) + Math.imul(y + 1, 668265263) + Math.imul(s, 2147483)) | 0;
      h = Math.imul(h ^ (h >>> 13), 1274126177);
      h = (h ^ (h >>> 16)) >>> 0;
      if (h % 1000 < coverage * 1000) g.fillRect(x, y, 1, 1);
    }
  }
  stippleCache[key] = g.createPattern(tile, "repeat");
  return stippleCache[key];
}

function buildDatasets(p: Panel) {
  const out: any[] = [];
  const band = (arr: number[][], colorKey: string, width: number, style: any) => out.push({
    label: colorKey + " band", data: toXY(arr), showLine: true, pointRadius: 0,
    borderColor: style, borderWidth: width, borderCapStyle: "round", borderJoinStyle: "round",
  });
  p.layers.forEach((l: any[]) => {
    const [arr, colorKey, width, coverage] = l;
    if (width !== undefined) {
      if (coverage >= 1) band(arr, colorKey, width, `rgb(${COLORS[colorKey]})`);
      else {
        if (coverage >= .3) band(arr, colorKey, width * 1.5, stipple(colorKey, coverage * .4));
        band(arr, colorKey, width, stipple(colorKey, coverage));
      }
    } else {
      const rgb = COLORS[colorKey];
      out.push({
        label: colorKey + " points", data: toXY(arr), showLine: false, pointStyle: "rect",
        pointRadius: 1, pointBorderWidth: 0, backgroundColor: `rgb(${rgb})`, pointBackgroundColor: `rgb(${rgb})`,
      });
    }
  });
  out.forEach((d, i) => { d.order = -i; });
  return out;
}

const overlayPlugin = (ellipses: number[][]) => ({
  id: "overlay",
  afterDatasetsDraw(chart: any) {
    const { ctx, chartArea: a, scales } = chart;
    const px = (v: number) => scales.x.getPixelForValue(v * 1000);
    const py = (v: number) => scales.y.getPixelForValue(v * 1000);
    ctx.save();
    ctx.strokeStyle = "#000";
    ctx.fillStyle = "#000";
    for (const [cx, cy, tx, ty, rx, ry] of ellipses) {
      const X = px(cx), Y = py(cy), ux = px(rx) - X, uy = py(ry) - Y, vx = px(tx) - X, vy = py(ty) - Y;
      ctx.lineWidth = 2.5;
      ctx.setLineDash([]);
      ctx.save();
      ctx.transform(ux, uy, vx, vy, X, Y);
      ctx.beginPath();
      ctx.arc(0, 0, 1, 0, Math.PI * 2);
      ctx.restore();
      ctx.stroke();
      ctx.lineWidth = 2;
      ctx.setLineDash([8, 6]);
      ctx.beginPath();
      ctx.moveTo(X - vx, Y - vy);
      ctx.lineTo(X + vx, Y + vy);
      ctx.moveTo(X - ux, Y - uy);
      ctx.lineTo(X + ux, Y + uy);
      ctx.stroke();
      ctx.setLineDash([]);
      ctx.beginPath();
      ctx.arc(X, Y, 3.5, 0, Math.PI * 2);
      ctx.fill();
    }
    ctx.lineWidth = 2;
    ctx.strokeRect(a.left, a.top, a.width, a.height);
    ctx.restore();
  },
});

function PanelChart({ p }: { p: Panel }) {
  const ref = useRef<HTMLCanvasElement>(null);
  useEffect(() => {
    const tickFont = { family: "'Liberation Sans'", size: 8.5 };
    const chart = new Chart(ref.current as HTMLCanvasElement, {
      type: "scatter",
      data: { datasets: buildDatasets(p) },
      plugins: [overlayPlugin(p.ellipses)],
      options: {
        responsive: false, animation: false, devicePixelRatio: 1,
        layout: { padding: { left: 0, right: 3, bottom: 0, top: p.title ? 0 : 38 } },
        plugins: {
          legend: { display: false }, tooltip: { enabled: false },
          title: {
            display: !!p.title, text: p.title || "", color: "#000", fullSize: false,
            font: { family: "'Liberation Sans'", size: 12, weight: "bold", lineHeight: 1 },
            padding: { top: 13, bottom: 13 },
          },
        },
        scales: {
          x: {
            type: "linear", min: p.xRange[0], max: p.xRange[1],
            grid: { display: false, drawTicks: false }, border: { display: false },
            afterBuildTicks: (s: any) => { s.ticks = p.xTicks.map((value) => ({ value })); },
            afterFit: (s: any) => { s.height = p.row === 0 ? 51 : 50; s.paddingLeft = 0; s.paddingRight = 0; },
            ticks: { autoSkip: false, maxRotation: 0, minRotation: 0, padding: 15, color: "#000", font: tickFont, callback: (v: any) => String(v) },
            title: { display: true, text: p.xLabel, color: "#000", padding: { top: 0, bottom: 1 }, font: { family: "'Liberation Sans'", size: 13 } },
          },
          y: {
            type: "linear", min: p.yRange[0], max: p.yRange[1],
            grid: { display: false, drawTicks: false }, border: { display: false },
            afterBuildTicks: (s: any) => { s.ticks = p.yTicks.map((value) => ({ value })); },
            afterFit: (s: any) => { s.width = 49; s.paddingTop = 0; s.paddingBottom = 0; },
            ticks: { autoSkip: false, minRotation: 90, maxRotation: 90, crossAlign: "center", padding: p.row === 1 ? 3.5 : 5, color: "#000", font: tickFont, callback: (v: any) => String(v) },
            title: { display: true, text: p.yLabel, color: "#000", padding: 0, font: { family: "'Liberation Sans'", size: 13 } },
          },
        },
      } as any,
    });
    return () => chart.destroy();
  }, [p]);
  return (
    <canvas ref={ref} width={300} height={350}
      style={{ position: "absolute", left: p.col * 300, top: p.row * 350, width: 300, height: 350 }} />
  );
}

const letterStyle: React.CSSProperties = { position: "absolute", fontFamily: "'Liberation Sans'", fontSize: 32, lineHeight: "32px", color: "#000" };

export default function App() {
  return (
    <div style={{ position: "fixed", left: 0, top: 0, width: 1200, height: 700, overflow: "hidden", background: "#fff" }}>
      {panels.map((p, i) => <PanelChart key={i} p={p} />)}
      <div style={{ ...letterStyle, left: 1, top: 6 }}>A</div>
      <div style={{ ...letterStyle, left: 3, top: 358 }}>B</div>
    </div>
  );
}
